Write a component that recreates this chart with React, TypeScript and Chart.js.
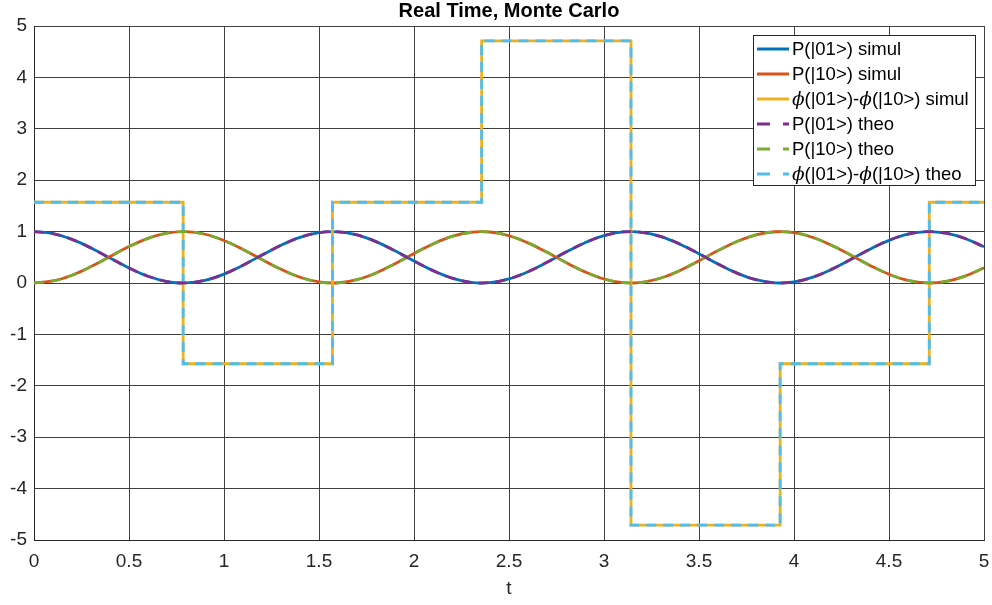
import React, { useEffect, useRef } from "react";
import { Chart, registerables } from "chart.js";

Chart.register(...registerables);

// time samples (s)
const tValues = [
  0, 0.1, 0.2, 0.3, 0.4, 0.5, 0.6, 0.7, 0.8, 0.9,
  1.0, 1.1, 1.2, 1.3, 1.4, 1.5, 1.6, 1.7, 1.8, 1.9,
  2.0, 2.1, 2.2, 2.3, 2.4, 2.5, 2.6, 2.7, 2.8, 2.9,
  3.0, 3.1, 3.2, 3.3, 3.4, 3.5, 3.6, 3.7, 3.8, 3.9,
  4.0, 4.1, 4.2, 4.3, 4.4, 4.5, 4.6, 4.7, 4.8, 4.9, 5.0,
];

// P(|01>) simulated
const p01Simul = [
  1.0, 0.9605, 0.8484, 0.6812, 0.4854, 0.2919, 0.1313, 0.0289, 0.0009, 0.0516,
  0.1732, 0.3463, 0.5437, 0.7343, 0.8878, 0.9801, 0.9966, 0.9347, 0.8042, 0.6256,
  0.4272, 0.2404, 0.0945, 0.0126, 0.0077, 0.0805, 0.2195, 0.4028, 0.6015, 0.7842,
  0.9219, 0.9931, 0.9864, 0.9029, 0.7557, 0.5684, 0.3701, 0.1929, 0.0642, 0.0029,
  0.0212, 0.115, 0.2697, 0.4607, 0.6579, 0.8302, 0.9503, 0.9993, 0.9696, 0.866, 0.704,
];

// P(|10>) simulated
const p10Simul = [
  0.0, 0.0395, 0.1516, 0.3188, 0.5146, 0.7081, 0.8687, 0.9711, 0.9991, 0.9484,
  0.8268, 0.6537, 0.4563, 0.2657, 0.1122, 0.0199, 0.0034, 0.0653, 0.1958, 0.3744,
  0.5728, 0.7596, 0.9055, 0.9874, 0.9923, 0.9195, 0.7805, 0.5972, 0.3985, 0.2158,
  0.0781, 0.0069, 0.0136, 0.0971, 0.2443, 0.4316, 0.6299, 0.8071, 0.9358, 0.9971,
  0.9788, 0.885, 0.7303, 0.5393, 0.3421, 0.1698, 0.0497, 0.0007, 0.0304, 0.134, 0.296,
];

// theoretical curves (coincide with simulation)
const p01Theo = [...p01Simul];
const p10Theo = [...p10Simul];

// phase difference: piecewise constant, value holds from each switch time
const phaseSwitchT = [0, 0.785, 1.571, 2.356, 3.142, 3.927, 4.712, 5.0];
const phaseSimul = [1.571, -1.571, 1.571, 4.712, -4.712, -1.571, 1.571, 1.571];
const phaseTheo = [...phaseSimul];

const xTicksStep = 0.5;
const yTicksStep = 1;

const FONT = "'Liberation Sans', Arial, Helvetica, sans-serif";

const legendItems = [
  { label: "P(|01>) simul", color: "#0072BD", dash: [] as number[] },
  { label: "P(|10>) simul", color: "#D95319", dash: [] as number[] },
  { label: "ϕ(|01>)-ϕ(|10>) simul", color: "#EDB120", dash: [] as number[] },
  { label: "P(|01>) theo", color: "#7E2F8E", dash: [13, 13] },
  { label: "P(|10>) theo", color: "#77AC30", dash: [13, 13] },
  { label: "ϕ(|01>)-ϕ(|10>) theo", color: "#4DBEEE", dash: [13, 13] },
];

const legendPlugin = {
  id: "matlabLegend",
  afterDraw(chart: any) {
    const ctx = chart.ctx as CanvasRenderingContext2D;
    const ca = chart.chartArea;
    const boxW = 222;
    const boxH = 150;
    const x0 = ca.right - 9 - boxW;
    const y0 = ca.top + 9;
    ctx.save();
    ctx.fillStyle = "#ffffff";
    ctx.fillRect(x0, y0, boxW, boxH);
    ctx.strokeStyle = "#262626";
    ctx.lineWidth = 1;
    ctx.strokeRect(x0 + 0.5, y0 + 0.5, boxW, boxH);
    ctx.textBaseline = "middle";
    ctx.textAlign = "left";
    const normal = `18.5px ${FONT}`;
    const italic = `italic 18.5px 'DejaVu Serif', serif`;
    legendItems.forEach((it, i) => {
      const y = y0 + 14 + i * 25;
      ctx.beginPath();
      ctx.setLineDash(it.dash);
      ctx.strokeStyle = it.color;
      ctx.lineWidth = 3;
      ctx.moveTo(x0 + 4, y);
      ctx.lineTo(x0 + 36, y);
      ctx.stroke();
      ctx.setLineDash([]);
      ctx.fillStyle = "#000000";
      let x = x0 + 39;
      const parts = it.label.split(/(ϕ)/).filter((p) => p.length > 0);
      parts.forEach((p) => {
        ctx.font = p === "ϕ" ? italic : normal;
        ctx.fillText(p, x, y + 1);
        x += ctx.measureText(p).width;
      });
    });
    ctx.restore();
  },
};

const fmt = (v: any) => String(Number(v));

export default function App() {
  const canvasRef = useRef<HTMLCanvasElement | null>(null);

  useEffect(() => {
    if (!canvasRef.current) return;
    Chart.defaults.font.family = FONT;
    const curve = (ys: number[]) => tValues.map((t, i) => ({ x: t, y: ys[i] }));
    const steps = (ys: number[]) => phaseSwitchT.map((t, i) => ({ x: t, y: ys[i] }));

    const chart = new Chart(canvasRef.current, {
      type: "line",
      data: {
        datasets: [
          { label: "P(|01>) simul", data: curve(p01Simul), borderColor: "#0072BD", borderWidth: 2.8, tension: 0.4, pointRadius: 0, order: 3 },
          { label: "P(|10>) simul", data: curve(p10Simul), borderColor: "#D95319", borderWidth: 2.8, tension: 0.4, pointRadius: 0, order: 2 },
          { label: "ϕ(|01>)-ϕ(|10>) simul", data: steps(phaseSimul), borderColor: "#EDB120", borderWidth: 2.8, stepped: "before", pointRadius: 0, order: 1 },
          { label: "P(|01>) theo", data: curve(p01Theo), borderColor: "#7E2F8E", borderWidth: 2.8, borderDash: [10, 7], tension: 0.4, pointRadius: 0, order: 0 },
          { label: "P(|10>) theo", data: curve(p10Theo), borderColor: "#77AC30", borderWidth: 2.8, borderDash: [10, 7], tension: 0.4, pointRadius: 0, order: 0 },
          { label: "ϕ(|01>)-ϕ(|10>) theo", data: steps(phaseTheo), borderColor: "#4DBEEE", borderWidth: 2.8, borderDash: [10, 7], stepped: "before", pointRadius: 0, order: 0 },
        ],
      },
      options: {
        responsive: false,
        animation: false,
        layout: { padding: { left: 0, right: 8, top: 0, bottom: 0 } },
        plugins: {
          legend: { display: false },
          tooltip: { enabled: false },
          title: {
            display: true,
            fullSize: false,
            text: "Real Time, Monte Carlo",
            color: "#000000",
            font: { size: 20, weight: "bold", family: FONT, lineHeight: 1 },
            padding: { top: 1, bottom: 5 },
          },
        },
        scales: {
          x: {
            type: "linear",
            min: 0,
            max: 5,
            ticks: {
              stepSize: xTicksStep,
              color: "#262626",
              font: { size: 19, family: FONT },
              padding: 10,
              maxRotation: 0,
              callback: fmt,
            },
            grid: { color: "#404040", lineWidth: 1, drawTicks: false },
            border: { display: true, color: "#262626", width: 1 },
            title: {
              display: true,
              text: "t",
              color: "#262626",
              font: { size: 19, family: FONT },
              padding: { top: 0, bottom: 5 },
            },
            afterFit: (scale: any) => {
              scale.height = 65;
              scale.paddingLeft = 0;
              scale.paddingRight = 0;
            },
          },
          y: {
            type: "linear",
            min: -5,
            max: 5,
            ticks: {
              stepSize: yTicksStep,
              color: "#262626",
              font: { size: 19, family: FONT },
              padding: 7,
              callback: fmt,
            },
            grid: { color: "#404040", lineWidth: 1, drawTicks: false },
            border: { display: true, color: "#262626", width: 1 },
            afterFit: (scale: any) => {
              scale.width = 34;
              scale.paddingTop = 0;
              scale.paddingBottom = 0;
            },
          },
        },
      },
      plugins: [legendPlugin],
    } as any);

    return () => chart.destroy();
  }, []);

  return (
    <div style={{ position: "absolute", left: 0, top: 0, width: 992, height: 605, background: "#ffffff" }}>
      <canvas ref={canvasRef} width={992} height={605} />
    </div>
  );
}
